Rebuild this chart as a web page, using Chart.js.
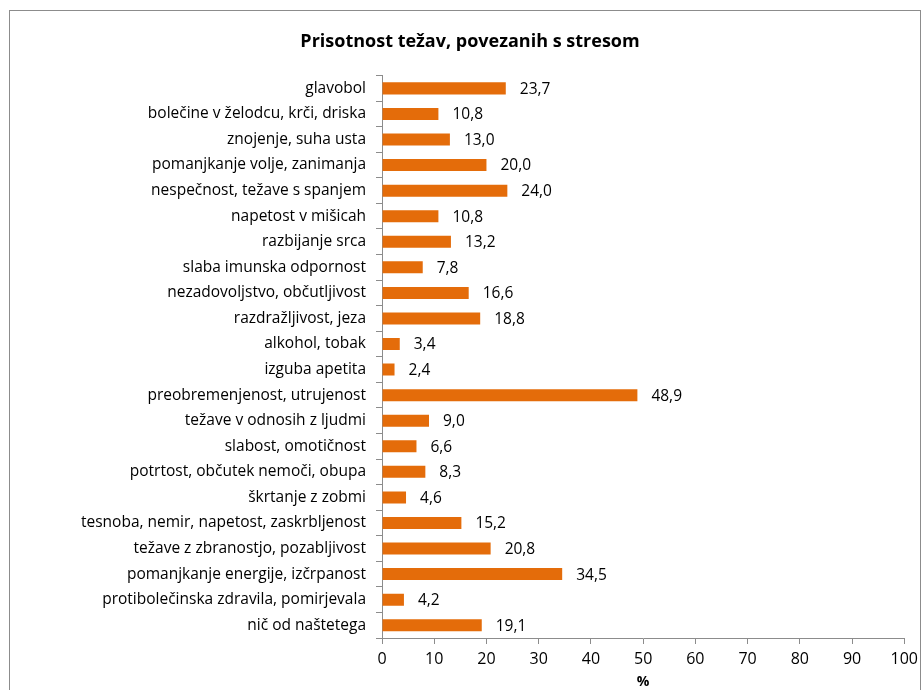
<!DOCTYPE html>
<html>
<head>
<meta charset="utf-8">
<script src="https://cdn.jsdelivr.net/npm/chart.js@4"></script>
<style>
  html, body { margin: 0; padding: 0; background: #fff; }
  #wrap { position: relative; width: 924px; height: 690px; }
  #frame { position: absolute; left: 9px; top: 10px; width: 910px; height: 700px; border: 1px solid #8c8c8c; }
  canvas { position: absolute; left: 0; top: 0; }
</style>
</head>
<body>
<div id="wrap">
  <div id="frame"></div>
  <canvas id="stressChart" width="924" height="690"></canvas>
</div>
<script>
const categories = [
  "glavobol",
  "bolečine v želodcu, krči, driska",
  "znojenje, suha usta",
  "pomanjkanje volje, zanimanja",
  "nespečnost, težave s spanjem",
  "napetost v mišicah",
  "razbijanje srca",
  "slaba imunska odpornost",
  "nezadovoljstvo, občutljivost",
  "razdražljivost, jeza",
  "alkohol, tobak",
  "izguba apetita",
  "preobremenjenost, utrujenost",
  "težave v odnosih z ljudmi",
  "slabost, omotičnost",
  "potrtost, občutek nemoči, obupa",
  "škrtanje z zobmi",
  "tesnoba, nemir, napetost, zaskrbljenost",
  "težave z zbranostjo, pozabljivost",
  "pomanjkanje energije, izčrpanost",
  "protibolečinska zdravila, pomirjevala",
  "nič od naštetega",
];
const values = [23.7, 10.8, 13.0, 20.0, 24.0, 10.8, 13.2, 7.8, 16.6, 18.8, 3.4, 2.4, 48.9, 9.0, 6.6, 8.3, 4.6, 15.2, 20.8, 34.5, 4.2, 19.1];

const FONT = "'Open Sans', sans-serif";

// value labels with decimal comma
const valueLabels = {
  id: "valueLabels",
  afterDatasetsDraw(chart) {
    const ctx = chart.ctx;
    const meta = chart.getDatasetMeta(0);
    ctx.save();
    ctx.font = "15.5px " + FONT;
    ctx.fillStyle = "#000";
    ctx.textBaseline = "middle";
    ctx.textAlign = "left";
    meta.data.forEach((bar, i) => {
      ctx.fillText(values[i].toFixed(1).replace(".", ","), bar.x + 14, bar.y + 1);
    });
    ctx.restore();
  },
};

new Chart(document.getElementById("stressChart"), {
  type: "bar",
  data: {
    labels: categories,
    datasets: [{
      data: values,
      backgroundColor: "#e46c0a",
      barPercentage: 0.47,
      categoryPercentage: 1,
    }],
  },
  options: {
    indexAxis: "y",
    responsive: false,
    animation: false,
    layout: { padding: { left: 35, right: 19, top: 9, bottom: 0 } },
    plugins: {
      legend: { display: false },
      tooltip: { enabled: false },
      title: {
        display: true,
        text: "Prisotnost težav, povezanih s stresom",
        color: "#000",
        font: { family: FONT, size: 18, weight: "bold" },
        padding: { top: 22, bottom: 23 },
      },
    },
    scales: {
      y: {
        afterFit(scale) { scale.width = 347; },
        grid: { drawOnChartArea: false, offset: true, tickLength: 6, color: "#8c8c8c" },
        border: { color: "#8c8c8c" },
        ticks: { color: "#000", font: { family: FONT, size: 15.5 }, padding: 10, autoSkip: false },
      },
      x: {
        min: 0,
        max: 100,
        afterFit(scale) { scale.height = 52; },
        grid: { drawOnChartArea: false, tickLength: 6, color: "#8c8c8c" },
        border: { color: "#8c8c8c" },
        ticks: { stepSize: 10, color: "#000", font: { family: FONT, size: 16 }, padding: 6, maxRotation: 0 },
        title: {
          display: true,
          text: "%",
          color: "#000",
          font: { family: FONT, size: 14, weight: "bold" },
          padding: { top: 0, bottom: 0 },
        },
      },
    },
  },
  plugins: [valueLabels],
});
</script>
</body>
</html>
